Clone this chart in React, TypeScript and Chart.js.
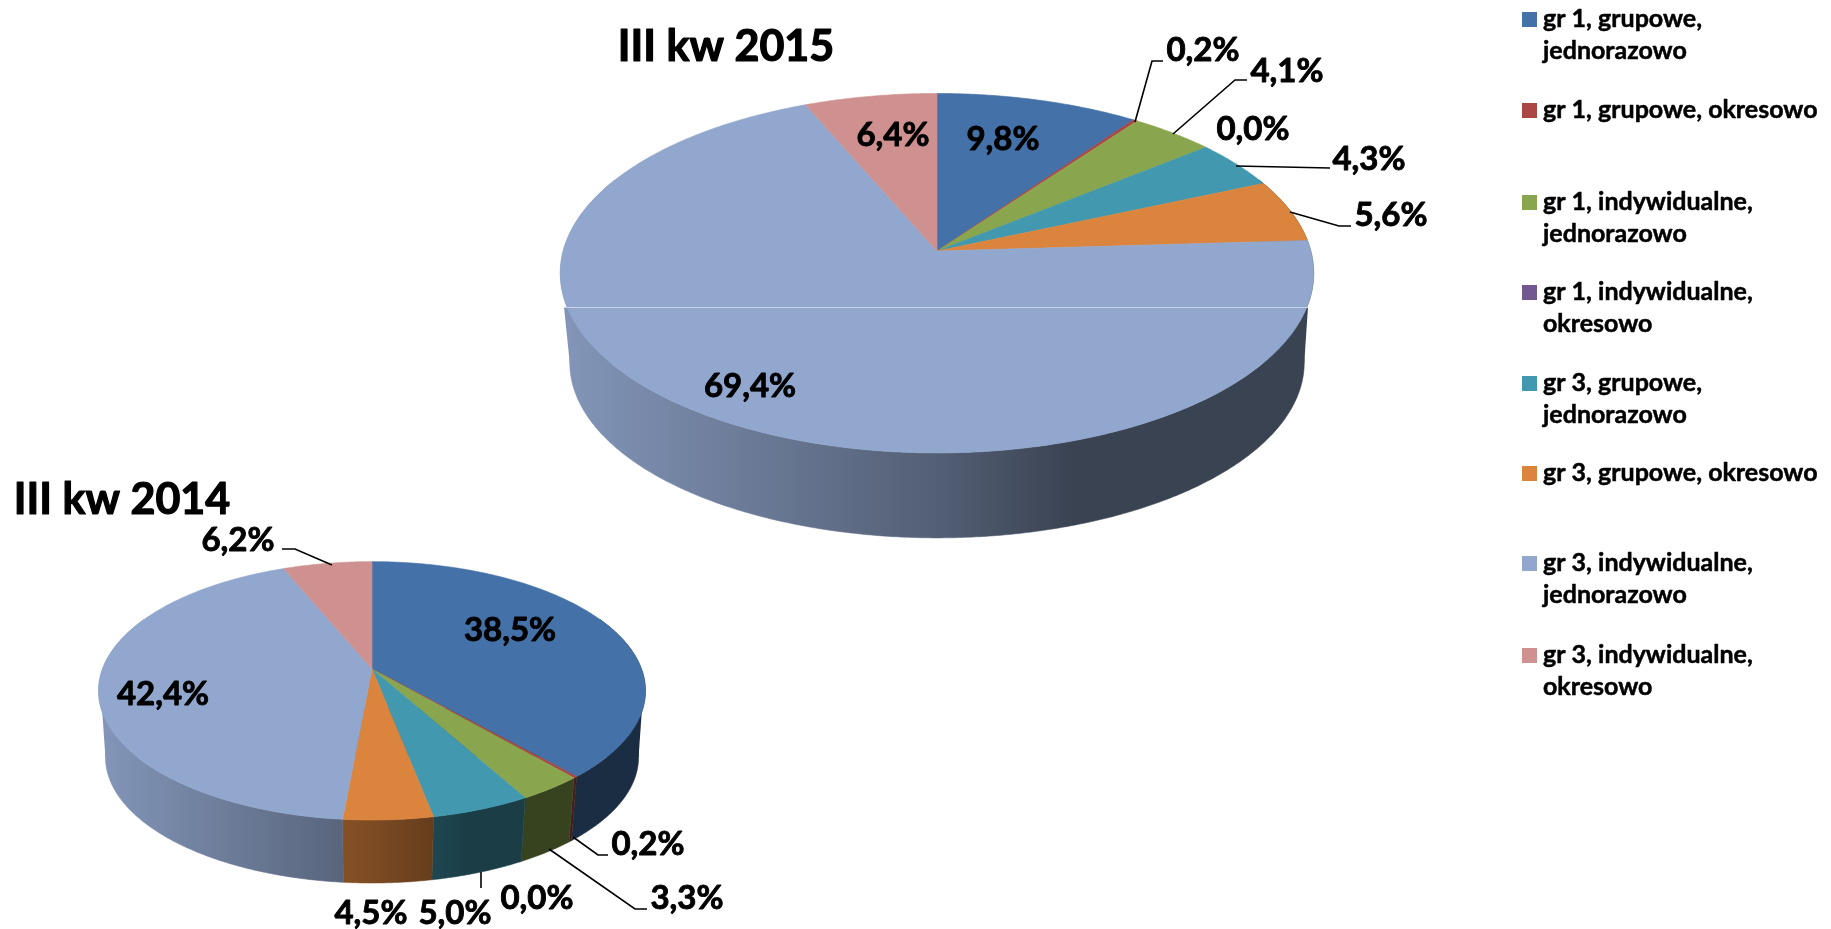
import React, { useEffect, useRef } from "react";
import { Chart, registerables } from "chart.js";

Chart.register(...registerables);

const categories = [
  "gr 1, grupowe, jednorazowo",
  "gr 1, grupowe, okresowo",
  "gr 1, indywidualne, jednorazowo",
  "gr 1, indywidualne, okresowo",
  "gr 3, grupowe, jednorazowo",
  "gr 3, grupowe, okresowo",
  "gr 3, indywidualne, jednorazowo",
  "gr 3, indywidualne, okresowo",
];
const values2015 = [9.8, 0.2, 4.1, 0.0, 4.3, 5.6, 69.4, 6.4];
const values2014 = [38.5, 0.2, 3.3, 0.0, 5.0, 4.5, 42.4, 6.2];
const colors = ["#4471A7", "#AA4643", "#89A54E", "#71588F", "#4198AF", "#DB843D", "#92A7CE", "#CF9190"];

const legendLines = [
  ["gr 1, grupowe,", "jednorazowo"],
  ["gr 1, grupowe, okresowo"],
  ["gr 1, indywidualne,", "jednorazowo"],
  ["gr 1, indywidualne,", "okresowo"],
  ["gr 3, grupowe,", "jednorazowo"],
  ["gr 3, grupowe, okresowo"],
  ["gr 3, indywidualne,", "jednorazowo"],
  ["gr 3, indywidualne,", "okresowo"],
];
const legendRowY = [19, 110, 202, 292, 383, 473, 563, 655];
const legendLineGap = 32;

const FONT = "Lato, 'Open Sans', sans-serif";

type P = [number, number];
interface PieLayout {
  title: string;
  titlePos: P;
  cx: number; cy: number; k: number; a: number; p: number;
  cyBottom: number; bottomScale: number;
  gradLeft: number; gradRight: number;
  wallTop: [number, number, number];
  labelPos: P[];
  leaders: P[][];
  seam?: [number, number, number];
  legend?: boolean;
}

const layout2015: PieLayout = {
  title: "III kw 2015",
  titlePos: [726, 47],
  cx: 937, cy: 251, k: 373.8, a: 177, p: 0.1235,
  cyBottom: 341, bottomScale: 0.975,
  gradLeft: 560, gradRight: 1314,
  wallTop: [564, 1308, 307],
  labelPos: [[1003, 139], [1203, 50], [1287, 71], [1253, 129], [1369, 159], [1391, 215], [750, 386], [893, 135]],
  leaders: [
    [[1135, 122], [1152, 61], [1163, 61]],
    [[1173, 134], [1235, 80], [1247, 80]],
    [[1236, 166], [1330, 168]],
    [[1290, 212], [1339, 226], [1351, 226]],
  ],
  seam: [564, 1308, 307],
  legend: true,
};

const layout2014: PieLayout = {
  title: "III kw 2014",
  titlePos: [122, 500],
  cx: 372, cy: 669, k: 269.5, a: 125.5, p: 0.169,
  cyBottom: 735.8, bottomScale: 0.975,
  gradLeft: 99, gradRight: 646,
  wallTop: [102, 642, 708],
  labelPos: [[510, 630], [648, 844], [687, 898], [537, 898], [455, 913], [371, 913], [163, 694], [238, 540]],
  leaders: [
    [[282, 549], [295, 549], [332, 565]],
    [[573, 837], [598, 855], [608, 855]],
    [[549, 849], [635, 909], [647, 909]],
    [[481, 872], [481, 888]],
  ],
};

function shade(hex: string, f: number) {
  const n = parseInt(hex.slice(1), 16);
  const r = Math.round(((n >> 16) & 255) * f);
  const g = Math.round(((n >> 8) & 255) * f);
  const b = Math.round((n & 255) * f);
  return `rgb(${r},${g},${b})`;
}

function boldText(ctx: CanvasRenderingContext2D, text: string, x: number, y: number, weight: number) {
  ctx.fillText(text, x, y);
  ctx.lineWidth = weight;
  ctx.strokeStyle = "#000";
  ctx.strokeText(text, x, y);
}

function makePlugin(L: PieLayout) {
  const top = (t: number): P => {
    const X = Math.cos(t), Y = Math.sin(t), d = 1 - L.p * Y;
    return [L.cx + (L.k * X) / d, L.cy + (L.a * Y) / d];
  };
  const bottom = (t: number): P => {
    const X = Math.cos(t), Y = Math.sin(t), d = 1 - L.p * Y, s = L.bottomScale;
    return [L.cx + (L.k * s * X) / d, L.cyBottom + (L.a * s * Y) / d];
  };
  const visFrom = (-25 * Math.PI) / 180;
  const visTo = (205 * Math.PI) / 180;
  return {
    id: "pie3d",
    beforeDatasetsDraw(chart: any) {
      const ctx: CanvasRenderingContext2D = chart.ctx;
      const arcs = chart.getDatasetMeta(0).data;
      const step = Math.PI / 360;
      const wallGrad = (i: number) => {
        const g = ctx.createLinearGradient(L.gradLeft, 0, L.gradRight, 0);
        g.addColorStop(0, shade(colors[i], 0.9));
        g.addColorStop(0.5, shade(colors[i], 0.57));
        g.addColorStop(0.68, shade(colors[i], 0.4));
        g.addColorStop(1, shade(colors[i], 0.4));
        return g;
      };
      const sliceAt = (t: number) =>
        arcs.findIndex((arc: any) => arc.startAngle <= t && t < arc.endAngle);
      ctx.save();
      ctx.lineJoin = "round";
      // straight upper parts of the wall, left and right
      const pTop = top(Math.PI / 2), pUp = bottom(-Math.PI / 2), pDown = bottom(Math.PI / 2);
      void pTop;
      const yMid = (pUp[1] + pDown[1]) / 2;
      const halfW = (L.k * L.bottomScale) / Math.sqrt(1 - L.p * L.p);
      const [xl, xr, yt] = L.wallTop;
      ctx.fillStyle = wallGrad(sliceAt(Math.PI));
      ctx.beginPath();
      ctx.moveTo(xl, yt);
      ctx.lineTo(L.cx, yt);
      ctx.lineTo(L.cx, yMid);
      ctx.lineTo(L.cx - halfW, yMid);
      ctx.closePath();
      ctx.fill();
      ctx.fillStyle = wallGrad(sliceAt(0));
      ctx.beginPath();
      ctx.moveTo(xr, yt);
      ctx.lineTo(L.cx, yt);
      ctx.lineTo(L.cx, yMid);
      ctx.lineTo(L.cx + halfW, yMid);
      ctx.closePath();
      ctx.fill();
      // front wall of each slice, one polygon per slice
      arcs.forEach((arc: any, i: number) => {
        const s = Math.max(arc.startAngle, visFrom);
        const e = Math.min(arc.endAngle, visTo);
        if (e - s <= 0) return;
        const n = Math.max(2, Math.ceil((e - s) / step));
        const g = wallGrad(i);
        ctx.beginPath();
        for (let j = 0; j <= n; j++) {
          const pt = top(s + ((e - s) * j) / n);
          j ? ctx.lineTo(pt[0], pt[1]) : ctx.moveTo(pt[0], pt[1]);
        }
        for (let j = n; j >= 0; j--) {
          const pt = bottom(s + ((e - s) * j) / n);
          ctx.lineTo(pt[0], pt[1]);
        }
        ctx.closePath();
        ctx.fillStyle = g;
        ctx.strokeStyle = g;
        ctx.lineWidth = 0.5;
        ctx.fill();
        ctx.stroke();
      });
      // top face
      arcs.forEach((arc: any, i: number) => {
        const s = arc.startAngle, e = arc.endAngle;
        if (e - s <= 0) return;
        const n = Math.max(2, Math.ceil((e - s) / step));
        ctx.beginPath();
        ctx.moveTo(L.cx, L.cy);
        for (let j = 0; j <= n; j++) {
          const pt = top(s + ((e - s) * j) / n);
          ctx.lineTo(pt[0], pt[1]);
        }
        ctx.closePath();
        ctx.fillStyle = colors[i];
        ctx.strokeStyle = colors[i];
        ctx.lineWidth = 0.6;
        ctx.fill();
        ctx.stroke();
      });
      if (L.seam) {
        ctx.strokeStyle = "#C8D3E6";
        ctx.lineWidth = 1;
        ctx.beginPath();
        ctx.moveTo(L.seam[0], L.seam[2] + 0.5);
        ctx.lineTo(L.seam[1], L.seam[2] + 0.5);
        ctx.stroke();
      }
      ctx.restore();
      return false;
    },
    afterDraw(chart: any) {
      const ctx: CanvasRenderingContext2D = chart.ctx;
      const vals: number[] = chart.data.datasets[0].data;
      ctx.save();
      ctx.strokeStyle = "#000";
      ctx.lineWidth = 1.6;
      for (const line of L.leaders) {
        ctx.beginPath();
        line.forEach((pt, i) => (i ? ctx.lineTo(pt[0], pt[1]) : ctx.moveTo(pt[0], pt[1])));
        ctx.stroke();
      }
      ctx.fillStyle = "#000";
      ctx.textAlign = "center";
      ctx.textBaseline = "middle";
      ctx.lineJoin = "round";
      ctx.font = `bold 33px ${FONT}`;
      vals.forEach((v, i) => {
        const pt = L.labelPos[i];
        boldText(ctx, v.toFixed(1).replace(".", ",") + "%", pt[0], pt[1], 0.9);
      });
      ctx.font = `bold 43px ${FONT}`;
      boldText(ctx, L.title, L.titlePos[0], L.titlePos[1], 1.2);
      if (L.legend) {
        ctx.textAlign = "left";
        ctx.font = `bold 25px ${FONT}`;
        legendLines.forEach((lines, i) => {
          const y = legendRowY[i];
          ctx.fillStyle = colors[i];
          ctx.fillRect(1522, y - 7, 15, 15);
          ctx.fillStyle = "#000";
          lines.forEach((t, j) => boldText(ctx, t, 1543, y + j * legendLineGap, 0.5));
        });
      }
      ctx.restore();
    },
  };
}

function makeChart(canvas: HTMLCanvasElement, values: number[], L: PieLayout) {
  return new Chart(canvas, {
    type: "pie",
    data: {
      labels: categories,
      datasets: [{ data: values, backgroundColor: colors, borderWidth: 0 }],
    },
    options: {
      animation: false,
      responsive: false,
      devicePixelRatio: 1,
      plugins: { legend: { display: false }, tooltip: { enabled: false }, title: { display: false } },
    },
    plugins: [makePlugin(L)],
  } as any);
}

export default function App() {
  const big = useRef<HTMLCanvasElement>(null);
  const small = useRef<HTMLCanvasElement>(null);
  useEffect(() => {
    const a = makeChart(big.current!, values2015, layout2015);
    const b = makeChart(small.current!, values2014, layout2014);
    return () => {
      a.destroy();
      b.destroy();
    };
  }, []);
  const st: React.CSSProperties = { position: "absolute", left: 0, top: 0, display: "block" };
  return (
    <div style={{ position: "absolute", left: 0, top: 0, width: 1831, height: 929, overflow: "hidden", background: "#fff" }}>
      <canvas ref={big} width={1831} height={929} style={st} />
      <canvas ref={small} width={1831} height={929} style={st} />
    </div>
  );
}
